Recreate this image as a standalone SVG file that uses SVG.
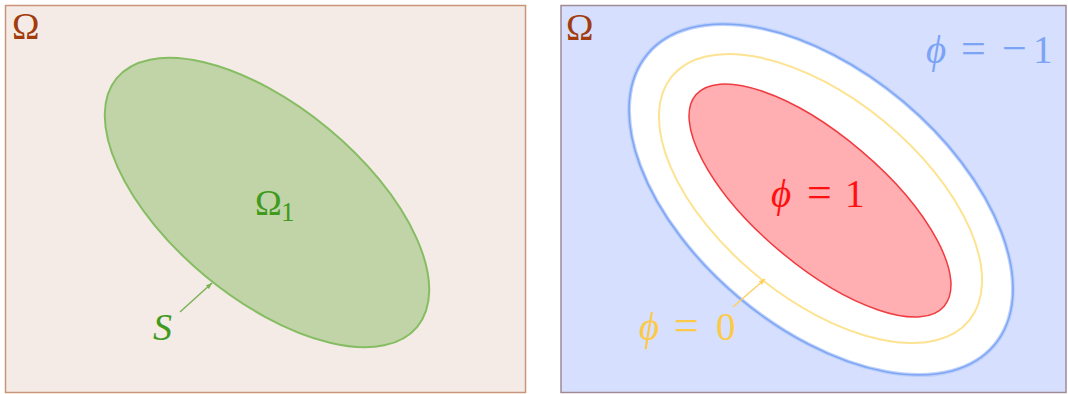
<svg xmlns="http://www.w3.org/2000/svg" width="1068" height="394" viewBox="0 0 1068 394">
<style>
.t{font-family:"Liberation Serif","DejaVu Serif",serif}
.it{font-style:italic}
.om{fill:#a23c0c;font-size:37px}
.g{fill:#3f9a1e}
.eq{font-size:44px}
</style>
<defs>
<marker id="ag" viewBox="0 0 10 10" refX="9" refY="5" markerWidth="7" markerHeight="7" orient="auto" markerUnits="userSpaceOnUse">
<path d="M0,1.5 L10,5 L0,8.5 z" fill="#7ab356"/>
</marker>
<marker id="ay" viewBox="0 0 10 10" refX="9" refY="5" markerWidth="7" markerHeight="7" orient="auto" markerUnits="userSpaceOnUse">
<path d="M0,1.5 L10,5 L0,8.5 z" fill="#fdcf5e"/>
</marker>
</defs>
<g id="panel-left">
<rect x="5.5" y="5.5" width="520" height="387" fill="#f5ebe6" stroke="#c8957a" stroke-width="1.5"/>
<text class="t om" x="12" y="39">Ω</text>
</g>
<g id="omega1">
<ellipse cx="267" cy="202.5" rx="195" ry="96" transform="rotate(39.6 267 202.5)" fill="#c0d4a7" stroke="#86bd63" stroke-width="2"/>
<text class="t g" x="255" y="215" font-size="36">Ω<tspan font-size="27" x="281" dy="6">1</tspan></text>
</g>
<g id="label-S">
<text class="t it g" x="153" y="340" font-size="38">S</text>
</g>
<g id="panel-right">
<rect x="561" y="5.5" width="505" height="387" fill="#d6dffd" stroke="#a08a96" stroke-width="1.5"/>
<text class="t om" x="566" y="40">Ω</text>
</g>
<g id="phi-minus1-region">
<ellipse cx="821" cy="199.5" rx="226.5" ry="128" transform="rotate(40 821 199.5)" fill="#ffffff" stroke="#bcd0fb" stroke-width="4"/>
<ellipse cx="821" cy="199.5" rx="226.5" ry="128" transform="rotate(40 821 199.5)" fill="none" stroke="#7fa6f4" stroke-width="1.6"/>
<text class="t" y="63" font-size="39" fill="#7ba3f6"><tspan class="it" x="926">ϕ</tspan><tspan class="eq" x="961">=</tspan><tspan class="eq" x="1002">−</tspan><tspan x="1033">1</tspan></text>
</g>
<g id="phi-zero-level">
<ellipse cx="820.5" cy="198.5" rx="192.3" ry="100" transform="rotate(39.4 820.5 198.5)" fill="none" stroke="#fde391" stroke-width="2"/>
<text class="t" y="340" font-size="39" fill="#fcca48"><tspan class="it" x="639">ϕ</tspan><tspan class="eq" x="674">=</tspan><tspan x="716">0</tspan></text>
</g>
<g id="phi-one-region">
<ellipse cx="820" cy="200.5" rx="163" ry="64.5" transform="rotate(40.4 820 200.5)" fill="#ffaeb1" stroke="#f03c40" stroke-width="1.5"/>
<text class="t" y="207" font-size="39" fill="#ff1010"><tspan class="it" x="771">ϕ</tspan><tspan class="eq" x="807">=</tspan><tspan x="845">1</tspan></text>
</g>
<g id="connectors">
<line x1="180" y1="312" x2="212" y2="283" stroke="#7ab356" stroke-width="1.5" marker-end="url(#ag)"/>
<line x1="733" y1="307" x2="765" y2="279" stroke="#fdcf5e" stroke-width="1.5" marker-end="url(#ay)"/>
</g>
</svg>
